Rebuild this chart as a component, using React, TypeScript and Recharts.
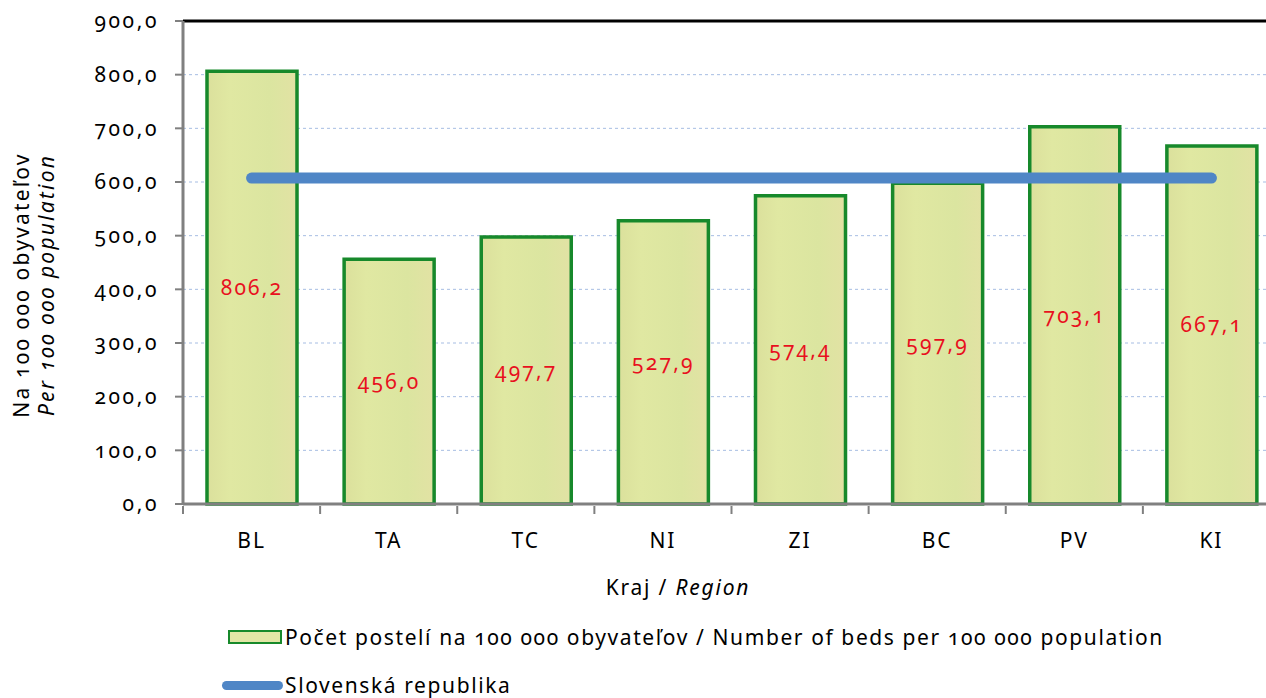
import React from 'react';
import {
  ComposedChart,
  Bar,
  Line,
  XAxis,
  YAxis,
  CartesianGrid,
  ReferenceLine,
  LabelList,
} from 'recharts';

const categories = ['BL', 'TA', 'TC', 'NI', 'ZI', 'BC', 'PV', 'KI'];
const beds = [806.2, 456.0, 497.7, 527.9, 574.4, 597.9, 703.1, 667.1];
const slovakia = [607.4, 607.4, 607.4, 607.4, 607.4, 607.4, 607.4, 607.4];
const yTicks = [0, 100, 200, 300, 400, 500, 600, 700, 800, 900];

const bedsLabel = 'Počet postelí na 100 000 obyvateľov / Number of beds per 100 000 population';
const srLabel = 'Slovenská republika';

const data = categories.map((c, i) => ({ cat: c, beds: beds[i], sr: slovakia[i] }));

const FONT = '"Noto Sans", "Open Sans", sans-serif';
const CHART_W = 1280;
const Y_W = 183;
const BAND = (CHART_W - Y_W) / categories.length;

const fmt = (v: number) => v.toFixed(1).replace('.', ',');

const XTick = (props: any) => {
  const { x, y, payload } = props;
  return (
    <g>
      <line x1={x - BAND / 2} y1={y} x2={x - BAND / 2} y2={y + 8} stroke="#808080" strokeWidth={2} />
      {payload.index === categories.length - 1 && (
        <line x1={x + BAND / 2} y1={y} x2={x + BAND / 2} y2={y + 8} stroke="#808080" strokeWidth={2} />
      )}
      <text x={x} y={y + 34} textAnchor="middle" dominantBaseline="central" fill="#000" fontSize={21} letterSpacing={2} fontFamily={FONT}>
        {payload.value}
      </text>
    </g>
  );
};

const YLabel = () => {
  const cy = 285;
  return (
    <g>
      <text x={21} y={cy} transform={`rotate(-90, 21, ${cy})`} textAnchor="middle" dominantBaseline="central" fontSize={21} letterSpacing={2.2} fontFamily={FONT} fill="#000">
        Na 100 000 obyvateľov
      </text>
      <text x={46} y={cy} transform={`rotate(-90, 46, ${cy})`} textAnchor="middle" dominantBaseline="central" fontSize={21} letterSpacing={2.2} fontStyle="italic" fontFamily={FONT} fill="#000">
        Per 100 000 population
      </text>
    </g>
  );
};

export default function App() {
  return (
    <div style={{ position: 'absolute', left: 0, top: 0, width: 1266, height: 698, overflow: 'hidden', background: '#fff', fontFamily: FONT, fontVariantNumeric: 'oldstyle-nums' }}>
      <ComposedChart
        width={CHART_W}
        height={698}
        data={data}
        margin={{ top: 21, right: 0, bottom: 164, left: 0 }}
        barCategoryGap={0}
      >
        <defs>
          <linearGradient id="barGrad" x1="0" y1="0" x2="1" y2="0">
            <stop offset="0%" stopColor="#dbe09c" />
            <stop offset="25%" stopColor="#e0e8a2" />
            <stop offset="70%" stopColor="#dbe5a0" />
            <stop offset="100%" stopColor="#e2e2a4" />
          </linearGradient>
        </defs>
        <CartesianGrid vertical={false} stroke="#a6bde3" strokeDasharray="3 3" />
        <XAxis
          dataKey="cat"
          height={30}
          tickLine={false}
          tickSize={0}
          axisLine={{ stroke: '#808080', strokeWidth: 3 }}
          tick={<XTick />}
          interval={0}
          label={{
            value: 'Kraj / Region',
            content: () => (
              <text x={678} y={587} textAnchor="middle" dominantBaseline="central" fontSize={21} letterSpacing={1.8} fontFamily={FONT} fill="#000">
                Kraj / <tspan fontStyle="italic">Region</tspan>
              </text>
            ),
          }}
        />
        <YAxis
          width={Y_W}
          domain={[0, 900]}
          ticks={yTicks}
          interval={0}
          tickSize={8}
          tickMargin={16}
          axisLine={{ stroke: '#808080', strokeWidth: 3 }}
          tickLine={{ stroke: '#808080', strokeWidth: 2 }}
          tick={{ fill: '#000', fontSize: 21, fontFamily: FONT, letterSpacing: 2.6 }}
          tickFormatter={(v: number) => fmt(v)}
          label={{ content: () => <YLabel /> }}
        />
        <ReferenceLine y={900} stroke="#000" strokeWidth={3} />
        <Bar
          dataKey="beds"
          barSize={90}
          fill="url(#barGrad)"
          stroke="#17892b"
          strokeWidth={3.5}
          isAnimationActive={false}
        >
          <LabelList
            dataKey="beds"
            position="center"
            formatter={(v: any) => fmt(Number(v))}
            fill="#e8101e"
            fontSize={21}
            letterSpacing={2.2}
            fontFamily={FONT}
          />
        </Bar>
        <Line
          dataKey="sr"
          type="linear"
          stroke="#4f86c6"
          strokeWidth={11}
          strokeLinecap="round"
          dot={false}
          activeDot={false}
          isAnimationActive={false}
        />
      </ComposedChart>
      <div style={{ position: 'absolute', left: 228, top: 624, height: 26, display: 'flex', alignItems: 'center', fontSize: 21, letterSpacing: 1.6, color: '#000', whiteSpace: 'nowrap' }}>
        <span style={{ display: 'inline-block', width: 50, height: 10, background: '#e2e6a6', border: '2px solid #17892b', marginRight: 3 }} />
        {bedsLabel}
      </div>
      <div style={{ position: 'absolute', left: 222, top: 672, height: 26, display: 'flex', alignItems: 'center', fontSize: 21, letterSpacing: 1.6, color: '#000', whiteSpace: 'nowrap' }}>
        <span style={{ display: 'inline-block', width: 61, height: 9, background: '#4f86c6', borderRadius: 5, marginRight: 2 }} />
        {srLabel}
      </div>
    </div>
  );
}
